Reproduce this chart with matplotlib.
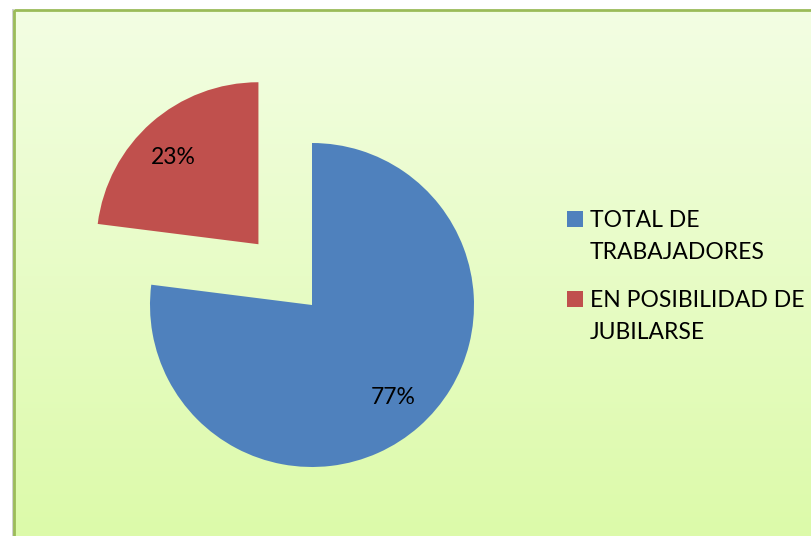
import numpy as np
import matplotlib
matplotlib.use("Agg")
import matplotlib.pyplot as plt
from matplotlib.patches import Rectangle
from matplotlib.colors import LinearSegmentedColormap

# Data
categories = ["TOTAL DE\nTRABAJADORES", "EN POSIBILIDAD DE\nJUBILARSE"]
values = [77, 23]
colors = ["#4F81BD", "#C0504D"]
explode = [0, 0.5]

plt.rcParams['font.family'] = ['Lato', 'DejaVu Sans']

W, H, DPI = 812, 536, 100
fig = plt.figure(figsize=(W / DPI, H / DPI), dpi=DPI)
fig.patch.set_facecolor("white")

# Background axes with gradient frame (pixel coordinates)
bg = fig.add_axes([0, 0, 1, 1], zorder=0)
bg.axis("off")
cmap = LinearSegmentedColormap.from_list("g", ["#F3FEE3", "#DCFAA9"])
grad = np.linspace(0, 1, 256).reshape(-1, 1)
bg.imshow(grad, cmap=cmap, extent=[15, W + 5, H + 5, 11], aspect="auto", zorder=1)
bg.add_patch(Rectangle((12.5, 9), 2, H, color="#D0D0D0", zorder=1.5, lw=0))
bg.add_patch(Rectangle((14, 10), W + 10, H + 10, fill=False, edgecolor="#9BBB59",
                       linewidth=2.0, zorder=2))
bg.set_xlim(0, W)
bg.set_ylim(H, 0)

# Pie axes: center (312,305) px, radius 162 px
R = 162.0
cx, cy = 312.0, 305.0
half = 1.25 * R
ax = fig.add_axes([(cx - half) / W, (H - cy - half) / H, 2 * half / W, 2 * half / H], zorder=2)
wedges, texts, autotexts = ax.pie(values, colors=colors, explode=explode, startangle=90,
                                  counterclock=False, autopct="%1.0f%%", pctdistance=0.76,
                                  wedgeprops=dict(linewidth=0))
for t in autotexts:
    t.set_fontsize(16.5)
    t.set_color("black")
# small nudge of the second label to match the reference placement
x, y = autotexts[1].get_position()
autotexts[1].set_position((x - 4 / R, y - 6 / R))
ax.set_xlim(-1.25, 1.25)
ax.set_ylim(-1.25, 1.25)
ax.set_aspect("equal")
ax.axis("off")

# Legend drawn in pixel coordinates on the background axes
leg_x, leg_y0, entry_gap, line_gap = 567, 227, 80, 32
for i, (lab, col) in enumerate(zip(categories, colors)):
    base = leg_y0 + i * entry_gap
    bg.add_patch(Rectangle((leg_x, base - 16), 16, 16, facecolor=col, edgecolor="none", zorder=3))
    for j, line in enumerate(lab.split("\n")):
        bg.text(leg_x + 23, base + j * line_gap, line, fontsize=16.5, color="black",
                ha="left", va="baseline", zorder=3)

fig.savefig("out.png", dpi=DPI, facecolor="white")
